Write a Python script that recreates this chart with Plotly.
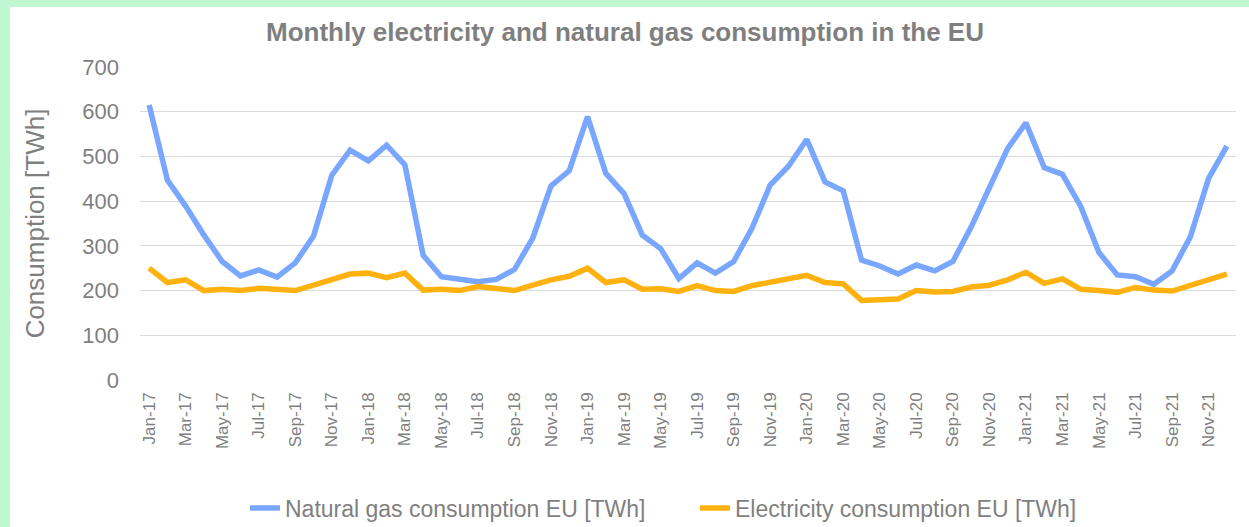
import plotly.graph_objects as go

months = [f"{m}-{y}" for y in ["17", "18", "19", "20", "21"]
          for m in ["Jan", "Feb", "Mar", "Apr", "May", "Jun", "Jul", "Aug", "Sep", "Oct", "Nov", "Dec"]]

gas_twh = [615, 447, 389, 324, 265, 233, 246, 230, 262, 322, 458, 514,
           490, 525, 481, 279, 231, 224, 220, 225, 247, 317, 434, 468,
           589, 462, 417, 324, 294, 227, 262, 239, 265, 339, 436, 478,
           538, 443, 423, 268, 255, 237, 257, 244, 265, 342, 430, 518,
           575, 475, 460, 388, 285, 235, 231, 214, 244, 320, 451, 523]

elec_twh = [250, 218, 224, 200, 203, 200, 205, 203, 200, 212, 226, 237,
            239, 229, 239, 201, 203, 200, 209, 205, 200, 212, 224, 232,
            250, 218, 224, 203, 204, 198, 211, 200, 198, 211, 218, 224,
            234, 218, 215, 178, 181, 181, 200, 197, 198, 208, 212, 224,
            241, 216, 226, 203, 200, 196, 207, 201, 199, 212, 222, 237]

gas_name = "Natural gas consumption EU [TWh]"
elec_name = "Electricity consumption EU [TWh]"

GRAY = "#7f7f7f"
GREEN = "#bff7d0"
FONT = "Liberation Sans, Arial, sans-serif"

fig = go.Figure()
fig.add_trace(go.Scatter(x=months, y=gas_twh, name=gas_name, mode="lines",
                         line=dict(color="#79a6fe", width=5.5)))
fig.add_trace(go.Scatter(x=months, y=elec_twh, name=elec_name, mode="lines",
                         line=dict(color="#ffb20f", width=5.5)))

W, H = 1249, 527
ml, mr, mt, mb = 140, 13, 67, 147
pw, ph = W - ml - mr, H - mt - mb

# mint green border strips on the left and top of the page
fig.add_shape(type="rect", xref="paper", yref="paper", layer="below",
              x0=-ml / pw, x1=(10 - ml) / pw, y0=-mb / ph, y1=1 + mt / ph,
              fillcolor=GREEN, line=dict(width=0))
fig.add_shape(type="rect", xref="paper", yref="paper", layer="below",
              x0=-ml / pw, x1=1 + mr / pw, y0=1 + (mt - 7) / ph, y1=1 + mt / ph,
              fillcolor=GREEN, line=dict(width=0))

fig.update_layout(
    width=W, height=H,
    margin=dict(l=ml, r=mr, t=mt, b=mb, autoexpand=False),
    paper_bgcolor="white",
    plot_bgcolor="white",
    title=dict(text="<b>Monthly electricity and natural gas consumption in the EU</b>",
               x=625 / W, xref="container", xanchor="center",
               y=1 - 32 / H, yref="container", yanchor="middle",
               font=dict(family=FONT, size=26, color=GRAY)),
    font=dict(family=FONT, color=GRAY),
    legend=dict(orientation="h", x=(245 - ml) / pw, xanchor="left",
                y=-(508 - 380) / ph, yanchor="middle",
                font=dict(size=23, color=GRAY), bgcolor="rgba(0,0,0,0)",
                itemwidth=30, tracegroupgap=0, entrywidth=405, entrywidthmode="pixels"),
    showlegend=True,
)

fig.update_xaxes(
    type="category",
    tickmode="array",
    tickvals=months[::2],
    ticktext=months[::2],
    tickangle=-90,
    tickfont=dict(size=17, color=GRAY),
    ticklabelstandoff=8,
    showgrid=False,
    showline=False,
    zeroline=False,
    ticks="",
    automargin=False,
    range=[-0.5, len(months) - 0.5],
)

fig.update_yaxes(
    range=[0, 700],
    dtick=100,
    tickfont=dict(size=22, color=GRAY),
    showgrid=True,
    gridcolor="#d9d9d9",
    gridwidth=1,
    zeroline=False,
    showline=False,
    ticklabelstandoff=20,
    automargin=False,
    title=dict(text="Consumption [TWh]", font=dict(size=26, color=GRAY), standoff=30),
)

fig.write_html("out.html", config={"displayModeBar": False},
               post_script="document.body.style.margin='0';")
